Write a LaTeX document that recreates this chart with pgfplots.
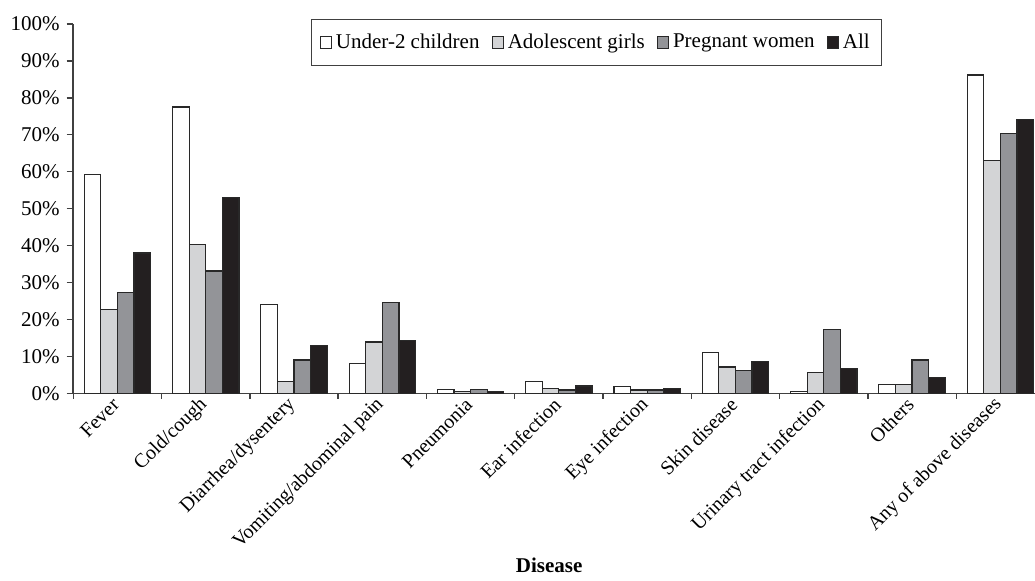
\documentclass[border=0pt]{standalone}
\usepackage{fontspec}
\setmainfont{Liberation Serif}
\usepackage{pgfplots}
\pgfplotsset{compat=1.18}
\definecolor{cwhite}{RGB}{255,255,255}
\definecolor{clight}{RGB}{211,212,214}
\definecolor{cmid}{RGB}{147,148,152}
\definecolor{cdark}{RGB}{35,31,32}
\definecolor{cedge}{RGB}{40,40,40}
\begin{document}
\begin{tikzpicture}
\begin{axis}[
  at={(0,0)}, anchor=south west,
  scale only axis, width=485.6pt, height=184.65pt,
  ybar=0pt, bar width=8.3pt,
  xmin=-0.5, xmax=10.5, ymin=0, ymax=100,
  axis lines*=left,
  axis line style={-, draw=black!75, line width=0.8pt},
  tick align=outside,
  major tick length=3.3pt, minor tick length=2.8pt,
  tick style={black!75, line width=0.7pt},
  xtick={0,...,10},
  xtick style={draw=none},
  minor xtick={-0.5,0.5,...,10.5},
  minor x tick style={draw=black!75, line width=0.7pt},
  xticklabels={Fever, Cold/cough, Diarrhea/dysentery, Vomiting/abdominal pain, Pneumonia, Ear infection, Eye infection, Skin disease, Urinary tract infection, Others, Any of above diseases},
  xticklabel style={rotate=45, anchor=east, inner sep=1pt, font=\fontsize{10}{12}\selectfont},
  ytick={0,10,...,100},
  yticklabel={\pgfmathprintnumber{\tick}\%},
  /pgf/number format/assume math mode=true,
  yticklabel style={font=\fontsize{10.5}{12}\selectfont},
  xlabel={\textbf{Disease}},
  xlabel style={at={(axis description cs:0.49,-0.465)}, anchor=center, font=\fontsize{10.5}{12}\selectfont},
  legend columns=-1,
  legend style={at={(axis description cs:0.539,1.0135)}, anchor=north,
    draw=black!75, line width=0.6pt, font=\fontsize{10.5}{12}\selectfont,
    inner xsep=4pt, inner ysep=5pt,
    /tikz/every even column/.append style={column sep=4pt}},
  legend image code/.code={\draw[#1, line width=0.5pt] (0pt,-2.8pt) rectangle (5.6pt,2.8pt);},
  every axis plot/.append style={draw=cedge, line width=0.6pt},
]
\addplot[fill=cwhite] coordinates {(0,59.2) (1,77.5) (2,24.0) (3,8.1) (4,1.0) (5,3.3) (6,1.9) (7,11.1) (8,0.4) (9,2.3) (10,86.2)};
\addplot[fill=clight] coordinates {(0,22.6) (1,40.3) (2,3.3) (3,13.9) (4,0.4) (5,1.4) (6,0.9) (7,7.1) (8,5.7) (9,2.3) (10,63.1)};
\addplot[fill=cmid] coordinates {(0,27.3) (1,33.1) (2,9.0) (3,24.5) (4,1.0) (5,0.9) (6,0.9) (7,6.2) (8,17.3) (9,9.0) (10,70.3)};
\addplot[fill=cdark] coordinates {(0,38.0) (1,53.0) (2,12.9) (3,14.4) (4,0.4) (5,2.0) (6,1.4) (7,8.7) (8,6.7) (9,4.3) (10,74.2)};
\legend{Under-2 children, Adolescent girls, Pregnant women, All}
\end{axis}
\pgfresetboundingbox
\path (-36.65pt,-93.35pt) rectangle (480.85pt,196.65pt);
\end{tikzpicture}
\end{document}
